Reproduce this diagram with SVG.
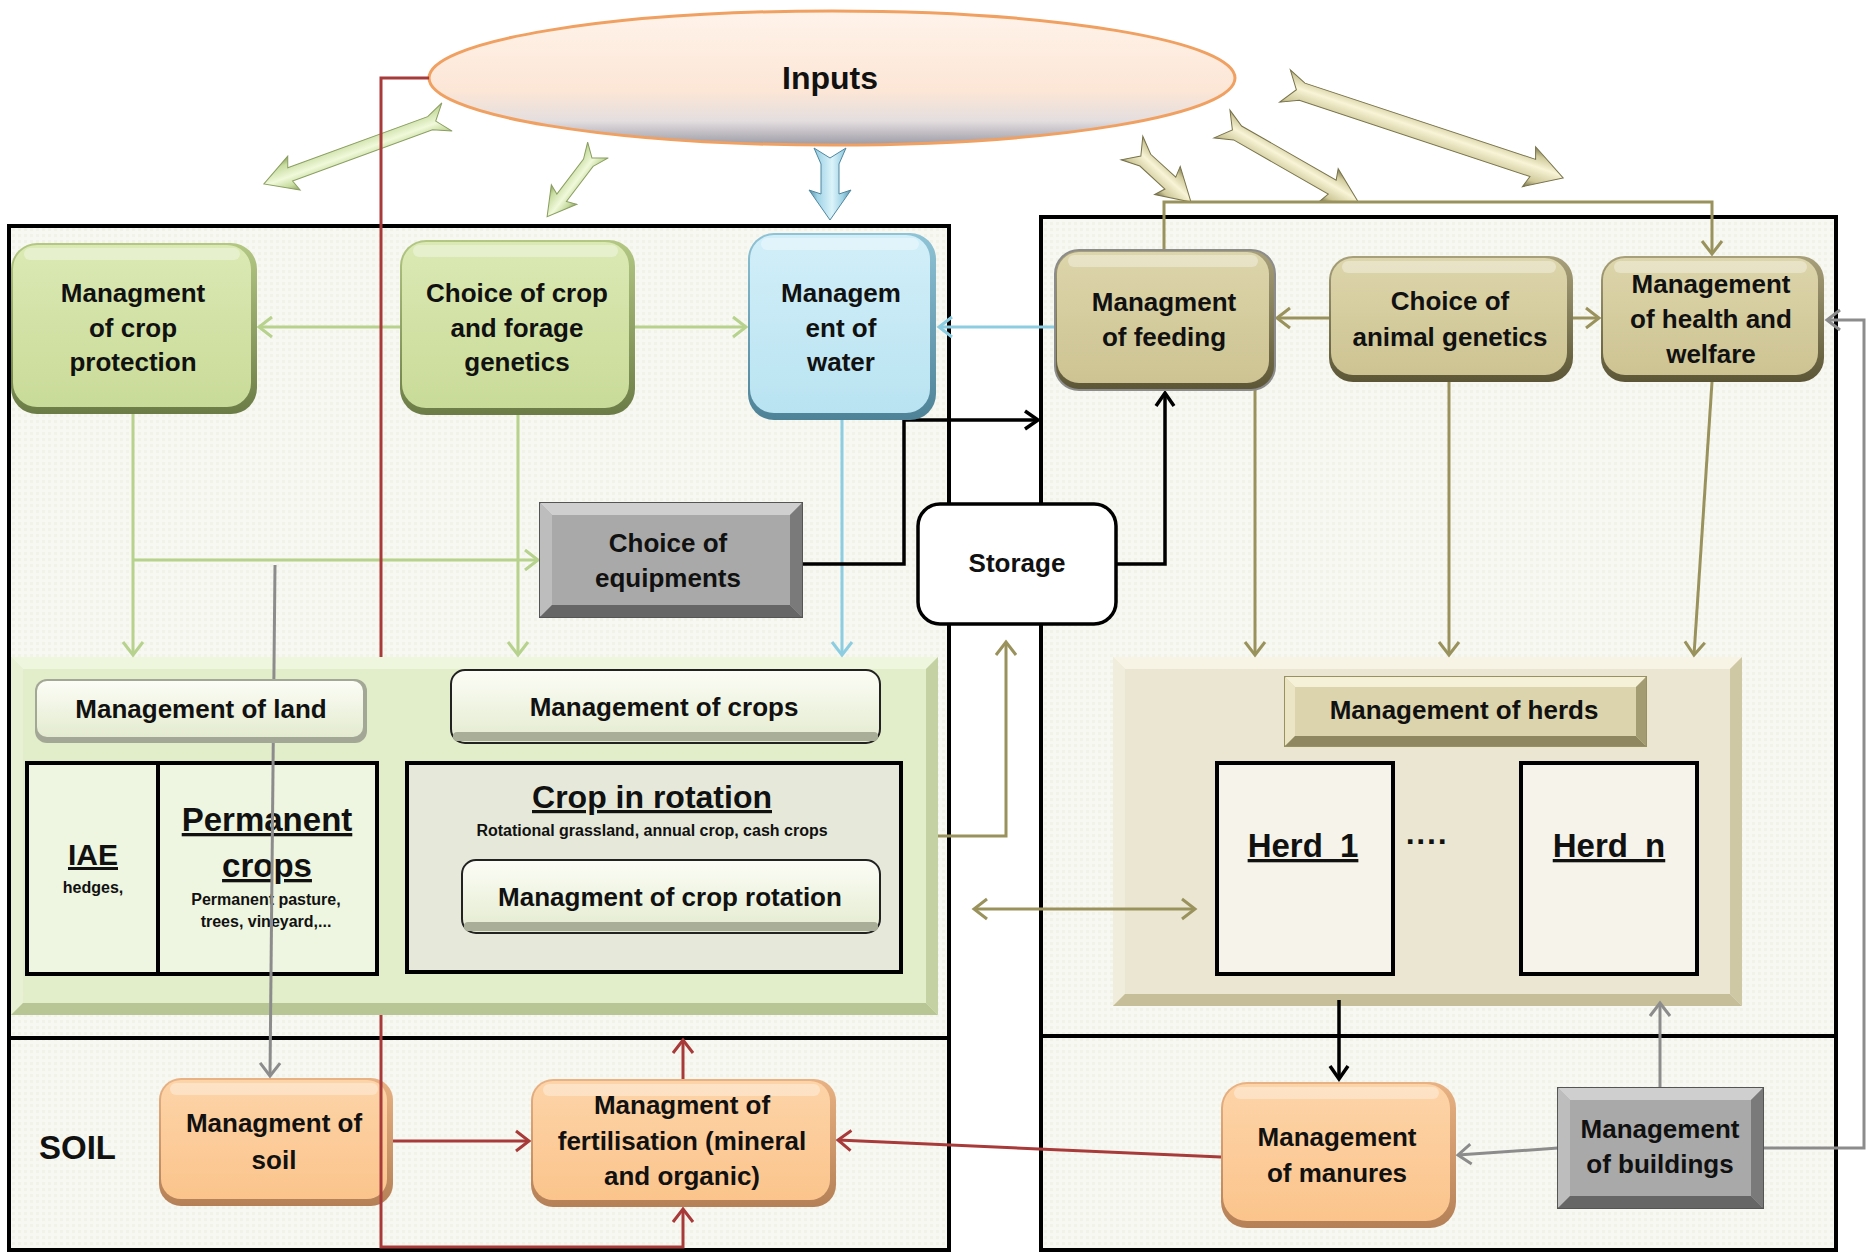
<svg xmlns="http://www.w3.org/2000/svg" width="1868" height="1252" viewBox="0 0 1868 1252">
<style>
.t{font-family:"Liberation Sans",Arial,sans-serif;font-weight:bold;font-size:26px;text-anchor:middle;fill:#111}
.s{font-size:16px}
.u{text-decoration:underline}
.frame{fill:url(#pDot);stroke:#000;stroke-width:4}
.div{stroke:#000;stroke-width:4}
.c{fill:none;stroke-width:3}
.gr{stroke:#b6d28c}
.bl{stroke:#8ccde2}
.ol{stroke:#9a925c}
.bk{stroke:#000;stroke-width:3.5}
.gy{stroke:#8c8c8c}
.rd{stroke:#a83a3a}
.hl{fill:#fff;opacity:.35}
.box{stroke:#000;stroke-width:4}
</style>
<defs>
<pattern id="pDot" patternUnits="userSpaceOnUse" width="6" height="6"><rect width="6" height="6" fill="#f8f8f2"/><rect width="3" height="3" fill="#f1f2e8"/></pattern>
<pattern id="pEll" patternUnits="userSpaceOnUse" width="6" height="6"><rect width="6" height="6" fill="url(#gEll)"/></pattern>
<linearGradient id="gGF" x1="0" y1="0" x2="0" y2="1"><stop offset="0" stop-color="#dbe9b4"/><stop offset="1" stop-color="#c9db98"/></linearGradient>
<linearGradient id="gGE" x1="0" y1="0" x2="0" y2="1"><stop offset="0" stop-color="#b4c884"/><stop offset="1" stop-color="#6c7c46"/></linearGradient>
<linearGradient id="gBF" x1="0" y1="0" x2="0" y2="1"><stop offset="0" stop-color="#d2eff9"/><stop offset="1" stop-color="#b9e3f1"/></linearGradient>
<linearGradient id="gBE" x1="0" y1="0" x2="0" y2="1"><stop offset="0" stop-color="#8fc3d6"/><stop offset="1" stop-color="#4d8297"/></linearGradient>
<linearGradient id="gKF" x1="0" y1="0" x2="0" y2="1"><stop offset="0" stop-color="#ddd5ab"/><stop offset="1" stop-color="#cdc392"/></linearGradient>
<linearGradient id="gKE" x1="0" y1="0" x2="0" y2="1"><stop offset="0" stop-color="#a8a07a"/><stop offset="1" stop-color="#5c5636"/></linearGradient>
<linearGradient id="gOF" x1="0" y1="0" x2="0" y2="1"><stop offset="0" stop-color="#fdd4a8"/><stop offset="1" stop-color="#fbc48c"/></linearGradient>
<linearGradient id="gOE" x1="0" y1="0" x2="0" y2="1"><stop offset="0" stop-color="#e9b284"/><stop offset="1" stop-color="#b58056"/></linearGradient>
<linearGradient id="gL" x1="0" y1="0" x2="0" y2="1"><stop offset="0" stop-color="#fcfdf6"/><stop offset="1" stop-color="#e3ebcf"/></linearGradient>
<linearGradient id="gEll" x1="0" y1="0" x2="0" y2="1"><stop offset="0" stop-color="#fff3ea"/><stop offset="0.6" stop-color="#fce6d6"/><stop offset="0.82" stop-color="#e4dedf"/><stop offset="1" stop-color="#9c9ba6"/></linearGradient>
<linearGradient id="aG" x1="0" y1="0" x2="0" y2="1"><stop offset="0" stop-color="#8fa564"/><stop offset="0.2" stop-color="#c8dca0"/><stop offset="0.45" stop-color="#f0f9da"/><stop offset="0.8" stop-color="#c8dca0"/><stop offset="1" stop-color="#8a9e60"/></linearGradient>
<linearGradient id="aO" x1="0" y1="0" x2="0" y2="1"><stop offset="0" stop-color="#7d7850"/><stop offset="0.2" stop-color="#d2cc9e"/><stop offset="0.45" stop-color="#f8f4d6"/><stop offset="0.8" stop-color="#cfc99a"/><stop offset="1" stop-color="#6f6a44"/></linearGradient>
<linearGradient id="aB" x1="0" y1="0" x2="0" y2="1"><stop offset="0" stop-color="#5a93ab"/><stop offset="0.2" stop-color="#9fd3e6"/><stop offset="0.45" stop-color="#dcf3fa"/><stop offset="0.8" stop-color="#9fd3e6"/><stop offset="1" stop-color="#4f879f"/></linearGradient>
<marker id="mG" markerUnits="userSpaceOnUse" markerWidth="16" markerHeight="22" refX="14" refY="11" orient="auto" overflow="visible"><path d="M1,1 L14,11 L1,21" fill="none" stroke="#b6d28c" stroke-width="3"/></marker>
<marker id="mB" markerUnits="userSpaceOnUse" markerWidth="16" markerHeight="22" refX="14" refY="11" orient="auto" overflow="visible"><path d="M1,1 L14,11 L1,21" fill="none" stroke="#8ccde2" stroke-width="3"/></marker>
<marker id="mO" markerUnits="userSpaceOnUse" markerWidth="16" markerHeight="22" refX="14" refY="11" orient="auto-start-reverse" overflow="visible"><path d="M1,1 L14,11 L1,21" fill="none" stroke="#9a925c" stroke-width="3"/></marker>
<marker id="mK" markerUnits="userSpaceOnUse" markerWidth="16" markerHeight="22" refX="14" refY="11" orient="auto" overflow="visible"><path d="M1,2 L14,11 L1,20" fill="none" stroke="#000" stroke-width="3.5"/></marker>
<marker id="mY" markerUnits="userSpaceOnUse" markerWidth="16" markerHeight="22" refX="14" refY="11" orient="auto" overflow="visible"><path d="M1,1 L14,11 L1,21" fill="none" stroke="#8c8c8c" stroke-width="3"/></marker>
<marker id="mR" markerUnits="userSpaceOnUse" markerWidth="16" markerHeight="22" refX="14" refY="11" orient="auto" overflow="visible"><path d="M1,1 L14,11 L1,21" fill="none" stroke="#a83a3a" stroke-width="3"/></marker>
</defs>
<rect width="1868" height="1252" fill="#fff"/>

<g id="frames">
<rect class="frame" x="9" y="226" width="940" height="1024"/>
<line class="div" x1="9" y1="1038" x2="949" y2="1038"/>
<rect class="frame" x="1041" y="217" width="795" height="1033"/>
<line class="div" x1="1041" y1="1036" x2="1836" y2="1036"/>
</g>

<g id="n-inputs">
<ellipse cx="832" cy="78" rx="403" ry="67" fill="url(#gEll)" stroke="#f0a060" stroke-width="3"/>
<text class="t" x="830" y="89" style="font-size:32px">Inputs</text>
</g>

<g id="input-arrows">
<polygon transform="translate(447,117) rotate(159.9)" points="0,-15 18,-7 167,-7 163,-18 195,0 163,18 167,7 18,7 0,15 12,0" fill="url(#aG)" stroke="#8a9e60" stroke-width="1"/>
<polygon transform="translate(598,150) rotate(127.3)" points="0,-13 16,-6 60,-6 56,-16 84,0 56,16 60,6 16,6 0,13 10,0" fill="url(#aG)" stroke="#8a9e60" stroke-width="1"/>
<polygon transform="translate(830,148) rotate(90)" points="0,-16 16,-9 46,-9 42,-21 72,0 42,21 46,9 16,9 0,16 10,0" fill="url(#aB)" stroke="#4f879f" stroke-width="1"/>
<polygon transform="translate(1132,148) rotate(42.5)" points="0,-16 18,-8 52,-8 48,-19 80,0 48,19 52,8 18,8 0,16 12,0" fill="url(#aO)" stroke="#77724a" stroke-width="1"/>
<polygon transform="translate(1222,124) rotate(29.8)" points="0,-16 18,-8 127,-8 123,-19 157,0 123,19 127,8 18,8 0,16 12,0" fill="url(#aO)" stroke="#77724a" stroke-width="1"/>
<polygon transform="translate(1285,86) rotate(18.3)" points="0,-17 18,-9 261,-9 257,-21 293,0 257,21 261,9 18,9 0,17 12,0" fill="url(#aO)" stroke="#77724a" stroke-width="1"/>
</g>

<g id="n-land-container">
<rect x="11" y="657" width="927" height="358" fill="#e2edca"/>
<polygon points="11,657 938,657 926,669 23,669" fill="#eff6de"/>
<polygon points="11,657 23,669 23,1003 11,1015" fill="#e9f1d4"/>
<polygon points="11,1015 23,1003 926,1003 938,1015" fill="#b8c696"/>
<polygon points="938,657 938,1015 926,1003 926,669" fill="#c4d1a2"/>
</g>
<g id="n-herds-container">
<rect x="1113" y="657" width="629" height="349" fill="#ebe6d2"/>
<polygon points="1113,657 1742,657 1730,669 1125,669" fill="#f7f4e6"/>
<polygon points="1113,657 1125,669 1125,994 1113,1006" fill="#f1eddc"/>
<polygon points="1113,1006 1125,994 1730,994 1742,1006" fill="#c6be98"/>
<polygon points="1742,657 1742,1006 1730,994 1730,669" fill="#cfc8a5"/>
</g>

<g id="n-iae">
<rect class="box" x="27" y="763" width="350" height="211" fill="#eef5e0"/>
<line x1="158" y1="763" x2="158" y2="974" stroke="#000" stroke-width="4"/>
<text class="t u" x="93" y="865" style="font-size:30px">IAE</text>
<text class="t s" x="93" y="893">hedges,</text>
<text class="t u" x="267" y="831" style="font-size:33px">Permanent</text>
<text class="t u" x="267" y="877" style="font-size:33px">crops</text>
<text class="t s" x="266" y="905">Permanent pasture,</text>
<text class="t s" x="266" y="927">trees, vineyard,...</text>
</g>

<g id="n-soil">
<rect x="159" y="1078" width="234" height="128" rx="22" fill="url(#gOE)"/>
<rect x="161" y="1080" width="226" height="119" rx="20" fill="url(#gOF)"/>
<rect class="hl" x="170" y="1083" width="208" height="12" rx="6"/>
<text class="t" x="274" y="1132">Managment of</text>
<text class="t" x="274" y="1169">soil</text>
</g>

<g id="connectors">
<path class="c gr" d="M400 327 H259" marker-end="url(#mG)"/>
<path class="c gr" d="M635 327 H746" marker-end="url(#mG)"/>
<path class="c gr" d="M133 414 V655" marker-end="url(#mG)"/>
<path class="c gr" d="M133 560 H538" marker-end="url(#mG)"/>
<path class="c gr" d="M518 415 V655" marker-end="url(#mG)"/>
<path class="c bl" d="M842 420 V655" marker-end="url(#mB)"/>
<path class="c bl" d="M1055 327 H939" marker-end="url(#mB)"/>
<path class="c ol" d="M1329 318 H1277" marker-end="url(#mO)"/>
<path class="c ol" d="M1573 318 H1599" marker-end="url(#mO)"/>
<path class="c ol" d="M1164 250 V202 H1712 V254" marker-end="url(#mO)"/>
<path class="c ol" d="M1255 390 V655" marker-end="url(#mO)"/>
<path class="c ol" d="M1449 382 V655" marker-end="url(#mO)"/>
<path class="c ol" d="M1712 382 L1694 655" marker-end="url(#mO)"/>
<path class="c ol" d="M938 836 H1006 V642" marker-end="url(#mO)"/>
<path class="c ol" d="M974 909 H1195" marker-start="url(#mO)" marker-end="url(#mO)"/>
<path class="c bk" d="M767 564 H904 V420 H1038" marker-end="url(#mK)"/>
<path class="c bk" d="M1116 564 H1165 V393" marker-end="url(#mK)"/>
<path class="c bk" d="M1339 1000 V1079" marker-end="url(#mK)"/>
<path class="c gy" d="M275 565 L270 1076" marker-end="url(#mY)"/>
<path class="c gy" d="M1763 1148 H1864 V320 H1827" marker-end="url(#mY)"/>
<path class="c gy" d="M1558 1148 L1458 1155" marker-end="url(#mY)"/>
<path class="c gy" d="M1660 1088 V1003" marker-end="url(#mY)"/>
<path class="c rd" d="M429 78 H381 V657"/>
<path class="c rd" d="M381 1015 V1247 H683 V1209" marker-end="url(#mR)"/>
<path class="c rd" d="M683 1079 V1040" marker-end="url(#mR)"/>
<path class="c rd" d="M393 1141 H529" marker-end="url(#mR)"/>
<path class="c rd" d="M1221 1157 L838 1140" marker-end="url(#mR)"/>
</g>

<g id="n-crop-protection">
<rect x="11" y="243" width="246" height="171" rx="26" fill="url(#gGE)"/>
<rect x="13" y="245" width="238" height="162" rx="24" fill="url(#gGF)"/>
<rect class="hl" x="24" y="248" width="216" height="12" rx="6"/>
<text class="t" x="133" y="302">Managment</text>
<text class="t" x="133" y="337">of crop</text>
<text class="t" x="133" y="371">protection</text>
</g>
<g id="n-crop-genetics">
<rect x="400" y="240" width="235" height="175" rx="26" fill="url(#gGE)"/>
<rect x="402" y="242" width="227" height="166" rx="24" fill="url(#gGF)"/>
<rect class="hl" x="413" y="245" width="205" height="12" rx="6"/>
<text class="t" x="517" y="302">Choice of crop</text>
<text class="t" x="517" y="337">and forage</text>
<text class="t" x="517" y="371">genetics</text>
</g>
<g id="n-water">
<rect x="748" y="233" width="188" height="187" rx="26" fill="url(#gBE)"/>
<rect x="750" y="235" width="180" height="178" rx="24" fill="url(#gBF)"/>
<rect class="hl" x="761" y="238" width="158" height="12" rx="6"/>
<text class="t" x="841" y="302">Managem</text>
<text class="t" x="841" y="337">ent of</text>
<text class="t" x="841" y="371">water</text>
</g>
<g id="n-equipments">
<rect x="540" y="503" width="262" height="114" fill="#a9a9a9" stroke="#555" stroke-width="2"/>
<polygon points="540,503 802,503 790,515 552,515" fill="#cfcfcf"/>
<polygon points="540,503 552,515 552,605 540,617" fill="#bdbdbd"/>
<polygon points="540,617 552,605 790,605 802,617" fill="#666"/>
<polygon points="802,503 802,617 790,605 790,515" fill="#7a7a7a"/>
<text class="t" x="668" y="552">Choice of</text>
<text class="t" x="668" y="587">equipments</text>
</g>
<g id="n-storage">
<rect x="918" y="504" width="198" height="120" rx="22" fill="#fff" stroke="#000" stroke-width="3.5"/>
<text class="t" x="1017" y="572">Storage</text>
</g>
<g id="n-feeding">
<rect x="1055" y="250" width="220" height="140" rx="24" fill="url(#gKE)" stroke="#8c8c8c" stroke-width="2"/>
<rect x="1057" y="252" width="212" height="131" rx="22" fill="url(#gKF)"/>
<rect class="hl" x="1068" y="255" width="190" height="12" rx="6"/>
<text class="t" x="1164" y="311">Managment</text>
<text class="t" x="1164" y="346">of feeding</text>
</g>
<g id="n-animal-genetics">
<rect x="1329" y="256" width="244" height="126" rx="24" fill="url(#gKE)"/>
<rect x="1331" y="258" width="236" height="117" rx="22" fill="url(#gKF)"/>
<rect class="hl" x="1342" y="261" width="214" height="12" rx="6"/>
<text class="t" x="1450" y="310">Choice of</text>
<text class="t" x="1450" y="346">animal genetics</text>
</g>
<g id="n-health">
<rect x="1601" y="256" width="223" height="126" rx="24" fill="url(#gKE)"/>
<rect x="1603" y="258" width="215" height="117" rx="22" fill="url(#gKF)"/>
<rect class="hl" x="1614" y="261" width="193" height="12" rx="6"/>
<text class="t" x="1711" y="293">Management</text>
<text class="t" x="1711" y="328">of health and</text>
<text class="t" x="1711" y="363">welfare</text>
</g>

<g id="n-manage-land">
<rect x="35" y="679" width="332" height="64" rx="12" fill="#a3a795"/>
<rect x="37" y="681" width="326" height="56" rx="10" fill="url(#gL)"/>
<text class="t" x="201" y="718">Management of land</text>
</g>
<g id="n-manage-crops">
<rect x="451" y="670" width="429" height="73" rx="14" fill="url(#gL)" stroke="#222" stroke-width="2"/>
<rect x="453" y="732" width="425" height="9" rx="4" fill="#a9ae98"/>
<text class="t" x="664" y="716">Management of crops</text>
</g>
<g id="n-crop-rotation">
<rect class="box" x="407" y="763" width="494" height="209" fill="#e6e9da"/>
<text class="t u" x="652" y="808" style="font-size:32px">Crop in rotation</text>
<text class="t s" x="652" y="836">Rotational grassland, annual crop, cash crops</text>
</g>
<g id="n-manage-rotation">
<rect x="462" y="860" width="418" height="73" rx="14" fill="url(#gL)" stroke="#222" stroke-width="2"/>
<rect x="464" y="922" width="414" height="9" rx="4" fill="#a9ae98"/>
<text class="t" x="670" y="906">Managment of crop rotation</text>
</g>

<g id="n-manage-herds">
<rect x="1285" y="677" width="361" height="69" fill="#dcd4ac" stroke="#9a9160" stroke-width="2"/>
<polygon points="1285,677 1646,677 1636,687 1295,687" fill="#f5f0d8"/>
<polygon points="1285,677 1295,687 1295,736 1285,746" fill="#ebe5c6"/>
<polygon points="1285,746 1295,736 1636,736 1646,746" fill="#8f8760"/>
<polygon points="1646,677 1646,746 1636,736 1636,687" fill="#a39b72"/>
<text class="t" x="1464" y="719">Management of herds</text>
</g>
<g id="n-herd1">
<rect class="box" x="1217" y="763" width="176" height="211" fill="#f5f3ea"/>
<text class="t u" x="1303" y="857" style="font-size:33px;word-spacing:8px">Herd 1</text>
</g>
<text class="t" x="1427" y="852" style="font-size:32px">····</text>
<g id="n-herdn">
<rect class="box" x="1521" y="763" width="176" height="211" fill="#f5f3ea"/>
<text class="t u" x="1609" y="857" style="font-size:33px;word-spacing:8px">Herd n</text>
</g>

<text class="t" x="39" y="1159" style="font-size:33px;text-anchor:start">SOIL</text>

<g id="n-fertilisation">
<rect x="531" y="1079" width="305" height="128" rx="22" fill="url(#gOE)"/>
<rect x="533" y="1081" width="297" height="119" rx="20" fill="url(#gOF)"/>
<rect class="hl" x="543" y="1084" width="277" height="12" rx="6"/>
<text class="t" x="682" y="1114">Managment of</text>
<text class="t" x="682" y="1150">fertilisation (mineral</text>
<text class="t" x="682" y="1185">and organic)</text>
</g>
<g id="n-manures">
<rect x="1221" y="1082" width="235" height="146" rx="26" fill="url(#gOE)"/>
<rect x="1223" y="1084" width="227" height="137" rx="24" fill="url(#gOF)"/>
<rect class="hl" x="1234" y="1087" width="205" height="12" rx="6"/>
<text class="t" x="1337" y="1146">Management</text>
<text class="t" x="1337" y="1182">of manures</text>
</g>
<g id="n-buildings">
<rect x="1558" y="1088" width="205" height="120" fill="#a9a9a9" stroke="#555" stroke-width="2"/>
<polygon points="1558,1088 1763,1088 1751,1100 1570,1100" fill="#cfcfcf"/>
<polygon points="1558,1088 1570,1100 1570,1196 1558,1208" fill="#bdbdbd"/>
<polygon points="1558,1208 1570,1196 1751,1196 1763,1208" fill="#666"/>
<polygon points="1763,1088 1763,1208 1751,1196 1751,1100" fill="#7a7a7a"/>
<text class="t" x="1660" y="1138">Management</text>
<text class="t" x="1660" y="1173">of buildings</text>
</g>
</svg>
